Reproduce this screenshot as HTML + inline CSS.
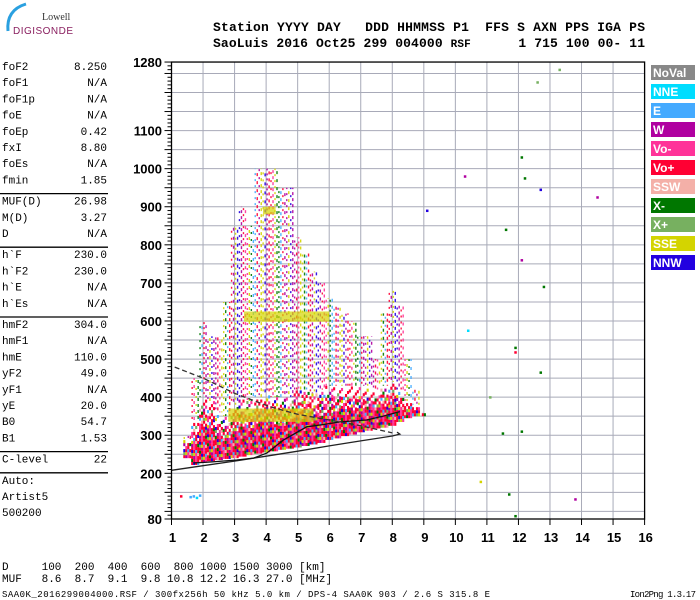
<!DOCTYPE html>
<html><head><meta charset="utf-8">
<style>
html,body{margin:0;padding:0;background:#fff;}
svg{display:block;}
.mono{font-family:"Liberation Mono",monospace;}
.sans{font-family:"Liberation Sans",sans-serif;}
</style></head>
<body>
<svg id="chart" width="700" height="600" viewBox="0 0 700 600" xmlns="http://www.w3.org/2000/svg">
  <g>
    <path d="M8,31 Q6,10 26,4" fill="none" stroke="#2aa0e0" stroke-width="3"/>
    <text x="42" y="20" font-family="Liberation Serif,serif" font-size="10" fill="#333">Lowell</text>
    <text x="13" y="34" class="sans" font-size="10" fill="#8a2060" textLength="60">DIGISONDE</text>
  </g>
  <g class="mono" font-size="13" font-weight="bold" fill="#000">
    <text x="213" y="31" xml:space="preserve" textLength="432">Station YYYY DAY   DDD HHMMSS P1  FFS S AXN PPS IGA PS</text>
    <text x="213" y="47" xml:space="preserve" textLength="432">SaoLuis 2016 Oct25 299 004000 <tspan font-size="11">RSF</tspan>      1 715 100 00- 11</text>
  </g>
  <g id="leftpanel" class="mono" font-size="11" fill="#000"></g>
  <g id="plot"></g>
  <g id="legend"></g>
  <g class="mono" font-size="11" fill="#000">
    <text x="2" y="570" xml:space="preserve">D     100  200  400  600  800 1000 1500 3000 [km]</text>
    <text x="2" y="582" xml:space="preserve">MUF   8.6  8.7  9.1  9.8 10.8 12.2 16.3 27.0 [MHz]</text>
  </g>
  <text x="2" y="597" class="mono" font-size="9" textLength="488">SAA0K_2016299004000.RSF / 300fx256h 50 kHz 5.0 km / DPS-4 SAA0K 903 / 2.6 S 315.8 E</text>
  <text x="630" y="597" class="mono" font-size="9" textLength="66">Ion2Png 1.3.17</text>
</svg>
<script>
// ---- data ----
const xTicks = [1,2,3,4,5,6,7,8,9,10,11,12,13,14,15,16];
const yLabels = [80,200,300,400,500,600,700,800,900,1000,1100,1280];
const colFreq = [1.5,1.75,2.0,2.25,2.5,2.75,3.0,3.25,3.5,3.75,4.0,4.25,4.5,4.75,5.0,5.25,5.5,5.75,6.0,6.25,6.5,6.75,7.0,7.25,7.5,7.75,8.0,8.25,8.5,8.75,9.0];
const colLow = [240,222,228,232,235,238,240,244,248,252,255,258,262,265,268,272,276,280,288,292,298,302,308,312,318,320,325,335,345,350,350];
const colDenseTop = [290,340,400,390,360,350,380,400,390,400,410,400,400,400,420,420,410,420,430,430,430,430,430,430,420,430,440,420,390,380,360];
const colSparseTop = [300,450,600,560,560,650,850,900,850,1000,1000,1000,950,950,820,780,730,700,660,640,620,600,560,560,500,620,680,640,500,420,360];
const bandF0 = [3.3,2.8,3.9];
const bandF1 = [6.0,5.5,4.3];
const bandH0 = [598,335,880];
const bandH1 = [625,370,900];
const ptFreq = [10.3,11.6,12.1,12.2,12.6,12.7,13.3,14.5,12.8,11.9,11.9,12.7,10.4,11.1,11.5,12.1,10.8,11.7,11.9,13.8,9.1,12.1,1.6,1.7,1.8,1.9,1.3];
const ptH = [980,840,1030,975,1227,945,1260,925,690,530,518,465,575,400,305,310,178,145,88,132,890,760,138,140,136,142,140];
const ptColor = ['#b000a0','#007700','#007700','#007700','#77b060','#2200e0','#77b060','#b000a0','#007700','#007700','#ff0033','#007700','#00ddff','#77b060','#007700','#007700','#d4d400','#007700','#007700','#b000a0','#2200e0','#b000a0','#44aaff','#44aaff','#00ddff','#44aaff','#ff0033'];
const lowerTraceF = [1.0,2.0,3.0,4.0,5.0,6.0,7.0,8.0,8.24,8.15];
const lowerTraceH = [208,220,232,245,258,272,285,298,303,308];
const profileF = [1.69,2.3,3.07,3.6,4.02,4.54,5.29,5.8,6.34,7.19,7.7,8.24];
const profileH = [227,230,235,240,253,287,322,328,335,340,350,362];
const dashF = [1.1,2.0,3.0,4.12,5.0,6.0,7.0,8.0];
const dashH = [479,450,410,375,355,340,325,306];
const legendNames = ['NoVal','NNE','E','W','Vo-','Vo+','SSW','X-','X+','SSE','NNW'];
const legendColors = ['#888888','#00ddff','#44aaff','#b000a0','#ff3399','#ff0033','#f4b0a8','#007700','#77b060','#d4d400','#2200e0'];
const params = [['foF2','8.250'],['foF1','N/A'],['foF1p','N/A'],['foE','N/A'],['foEp','0.42'],['fxI','8.80'],['foEs','N/A'],['fmin','1.85'],null,['MUF(D)','26.98'],['M(D)','3.27'],['D','N/A'],null,['h`F','230.0'],['h`F2','230.0'],['h`E','N/A'],['h`Es','N/A'],null,['hmF2','304.0'],['hmF1','N/A'],['hmE','110.0'],['yF2','49.0'],['yF1','N/A'],['yE','20.0'],['B0','54.7'],['B1','1.53'],null,['C-level','22'],null,['Auto:',''],['Artist5',''],['500200','']];

// ---- axes ----
const X = f => 171.5 + (f - 1) * 31.54;
const Y = h => 519 - (h - 80) * 0.3808;
const NS = 'http://www.w3.org/2000/svg';
function mk(tag, attrs, parent) {
  const e = document.createElementNS(NS, tag);
  for (const k in attrs) e.setAttribute(k, attrs[k]);
  parent.appendChild(e);
  return e;
}

// ---- left panel ----
const lp = document.getElementById('leftpanel');
let py = 70;
params.forEach(p => {
  if (p === null) {
    const l = mk('line', {x1: 0, x2: 108, y1: py - 6, y2: py - 6, stroke: '#000', 'stroke-width': 1.3}, lp);
    
    
    py += 5;
    return;
  }
  const t = mk('text', {x: 2, y: py}, lp);
  t.textContent = p[0];
  
  
  if (p[1]) {
    const v = mk('text', {x: 107, y: py, 'text-anchor': 'end'}, lp);
    v.textContent = p[1];
    
    
  }
  py += 16.2;
});

// ---- plot ----
const plot = document.getElementById('plot');
const grid = mk('g', {stroke: '#a8aab8', 'stroke-width': 1}, plot);


for (let h = 100; h <= 1280; h += 50) mk('line', {x1: X(1), x2: X(16), y1: Y(h), y2: Y(h)}, grid);
for (let f = 2; f <= 15; f++) mk('line', {x1: X(f), x2: X(f), y1: Y(80), y2: Y(1280)}, grid);

const pal = ['#ff0033','#ff3399','#ff0033','#b000a0','#ff0033','#77b060','#ff3399','#ff0033','#d4d400','#ff0033','#2200e0','#ff3399','#007700','#ff0033','#f4b0a8','#ff0033','#44aaff'];
const spal = ['#d4d400','#2200e0','#b000a0','#ff0033','#ff3399','#d4d400','#007700','#44aaff','#ff0033','#b000a0'];
const echoes = mk('g', {}, plot);


colFreq.forEach((f, i) => {
  const x0 = X(f) - 4;
  // sparse upper echoes
  for (let s = 0; s < 4; s++) {
    const x = x0 + s * 2 + 1;
    const ln = mk('line', {x1: x, x2: x, y1: Y(colDenseTop[i]), y2: Y(colSparseTop[i]), stroke: spal[(i * 3 + s) % spal.length], 'stroke-width': 1.4, 'stroke-dasharray': (2 + s % 2) + ' ' + (3 + (i + s) % 4), 'stroke-dashoffset': (i * 5 + s * 3) % 9, opacity: 0.9}, echoes);
    
    
  }
  // dense echoes
  const yTop = Y(colDenseTop[i]), yBot = Y(colLow[i]);
  const span = yBot - yTop;
  for (let s = 0; s < 4; s++) {
    let c = 0;
    for (let y = yBot - 3; y >= yTop; y -= 3, c++) {
      const frac = (yBot - y) / span;
      if (frac > 0.55 && (i + s * 2 + c) % 3 === 0) continue;
      if (frac > 0.8 && (i + s + c) % 2 === 0) continue;
      const r = mk('rect', {x: x0 + s * 2, y: y, width: 2.1, height: 3.1, fill: pal[(i * 7 + s * 3 + c * 5) % pal.length]}, echoes);
      
      
    }
  }
});
bandF0.forEach((f0, i) => {
  const b = mk('rect', {x: X(f0), y: Y(bandH1[i]), width: X(bandF1[i]) - X(f0), height: Y(bandH0[i]) - Y(bandH1[i]), fill: '#d4d400', opacity: 0.7}, echoes);
  
  
});
ptFreq.forEach((f, i) => {
  const p = mk('rect', {x: X(f) - 1, y: Y(ptH[i]) - 1, width: 2.5, height: 2.5, fill: ptColor[i]}, echoes);
  
  
});

function poly(fs, hs, attrs, name) {
  const pts = fs.map((f, i) => X(f).toFixed(1) + ',' + Y(hs[i]).toFixed(1)).join(' ');
  const e = mk('polyline', Object.assign({points: pts, fill: 'none'}, attrs), plot);
  
  
}
poly(lowerTraceF, lowerTraceH, {stroke: '#222', 'stroke-width': 1.3}, 'virtual-height-trace');
poly(profileF, profileH, {stroke: '#111', 'stroke-width': 1.3}, 'profile-trace');
poly(dashF, dashH, {stroke: '#333', 'stroke-width': 1.3, 'stroke-dasharray': '5 3'}, 'dashed-trace');

// frame & ticks
const frame = mk('rect', {x: X(1), y: Y(1280), width: X(16) - X(1), height: Y(80) - Y(1280), fill: 'none', stroke: '#000', 'stroke-width': 1.3}, plot);


const ticks = mk('g', {stroke: '#000', 'stroke-width': 1}, plot);


for (let h = 80; h <= 1280; h += 10) {
  const major = (h % 50 === 0) || h === 80 || h === 1280;
  mk('line', {x1: X(1) - (major ? 7 : 4), x2: X(1), y1: Y(h), y2: Y(h)}, ticks);
}
xTicks.forEach(f => mk('line', {x1: X(f), x2: X(f), y1: Y(80), y2: Y(80) + 6}, ticks));
const xl = mk('g', {class: 'sans', 'font-size': 13, 'font-weight': 'bold', 'text-anchor': 'middle'}, plot);


xTicks.forEach(f => {
  const t = mk('text', {x: X(f) + 1, y: 542}, xl);
  t.textContent = f;
  
  
});
const yl = mk('g', {class: 'sans', 'font-size': 13, 'font-weight': 'bold', 'text-anchor': 'end'}, plot);


yLabels.forEach(h => {
  const t = mk('text', {x: 162, y: Y(h) + 5}, yl);
  t.textContent = h;
  
  
});

// legend
const lg = document.getElementById('legend');
legendNames.forEach((n, i) => {
  const y = 65 + i * 19;
  const r = mk('rect', {x: 651, y: y, width: 44, height: 15, fill: legendColors[i]}, lg);
  
  
  const t = mk('text', {x: 653, y: y + 12, class: 'sans', 'font-size': 12, 'font-weight': 'bold', fill: '#fff'}, lg);
  t.textContent = n;
  
  
});
</script>
</body></html>
